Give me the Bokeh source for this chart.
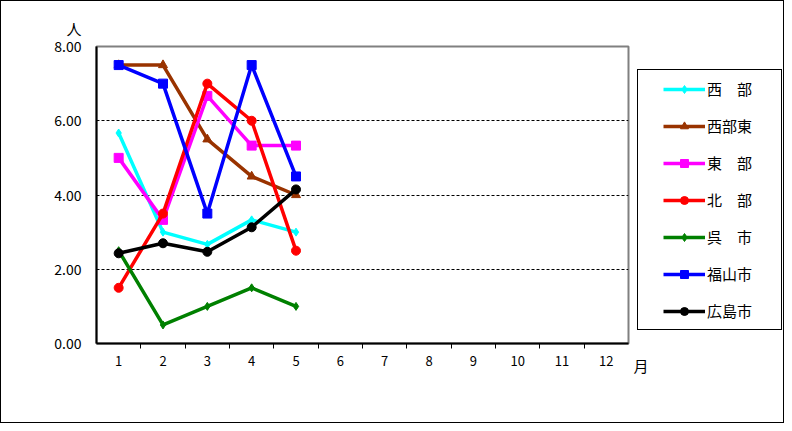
from bokeh.plotting import figure
from bokeh.models import Range1d, FixedTicker, Legend, LegendItem, Title
from bokeh.embed import file_html
from bokeh.resources import INLINE

months = list(range(1, 13))
x_obs = [1, 2, 3, 4, 5]
series_names = ["西　部", "西部東", "東　部", "北　部", "呉　市", "福山市", "広島市"]
nishi = [5.67, 3.00, 2.67, 3.33, 3.00]
nishi_higashi = [7.50, 7.50, 5.50, 4.50, 4.00]
higashi = [5.00, 3.33, 6.67, 5.33, 5.33]
kita = [1.50, 3.50, 7.00, 6.00, 2.50]
kure = [2.50, 0.50, 1.00, 1.50, 1.00]
fukuyama = [7.50, 7.00, 3.50, 7.50, 4.50]
hiroshima = [2.43, 2.70, 2.47, 3.13, 4.15]
y_ticks = [0, 2, 4, 6, 8]
y_tick_labels = ["0.00", "2.00", "4.00", "6.00", "8.00"]
y_unit = "人"
x_unit = "月"

series_values = [nishi, nishi_higashi, higashi, kita, kure, fukuyama, hiroshima]
colors = ["#00FFFF", "#993300", "#FF00FF", "#FF0000", "#008000", "#0000FF", "#000000"]
markers = ["diamond", "triangle", "square", "circle", "diamond", "square", "circle"]
msizes = [8, 9, 9, 9, 8, 9, 9]

FONT = "Noto Sans CJK JP"

p = figure(width=784, height=423, output_backend="svg", toolbar_location=None,
           x_range=Range1d(0.5, 12.5), y_range=Range1d(0, 8),
           min_border_left=96, min_border_right=156, min_border_top=46, min_border_bottom=80)
p.frame_width = 532
p.frame_height = 297
p.background_fill_color = "white"
p.border_fill_color = "white"
p.outline_line_color = "#808080"
p.outline_line_width = 2
p.stylesheets = [":host::after { content: ''; position: absolute; left: 0; top: 0; "
                 "width: 784px; height: 423px; box-sizing: border-box; "
                 "border: 1px solid black; z-index: 100; pointer-events: none; }"]

# unit label above the y axis
p.title.text = y_unit
p.title.align = "left"
p.title.offset = -30
p.title.standoff = 15
p.title.text_font = FONT
p.title.text_font_size = "15px"
p.title.text_font_style = "normal"
p.title.text_color = "black"

# axes
xa = p.xaxis[0]
xa.ticker = FixedTicker(ticks=months, minor_ticks=[m + 0.5 for m in months[:-1]])
xa.major_tick_out = 0
xa.major_tick_in = 0
xa.minor_tick_out = 5
xa.minor_tick_in = 0
xa.minor_tick_line_color = "black"
xa.minor_tick_line_width = 1
xa.axis_line_color = "black"
xa.axis_line_width = 2
xa.major_label_text_font = FONT
xa.major_label_text_font_size = "13px"
xa.major_label_text_color = "black"
xa.major_label_standoff = 7

ya = p.yaxis[0]
ya.ticker = FixedTicker(ticks=y_ticks)
ya.major_label_overrides = {t: l for t, l in zip(y_ticks, y_tick_labels)}
ya.major_tick_out = 0
ya.major_tick_in = 0
ya.minor_tick_out = 0
ya.minor_tick_in = 0
ya.axis_line_color = "black"
ya.axis_line_width = 2
ya.major_label_text_font = FONT
ya.major_label_text_font_size = "14px"
ya.major_label_text_color = "black"
ya.major_label_standoff = 15

p.xgrid.visible = False
p.ygrid.ticker = FixedTicker(ticks=[2, 4, 6])
p.ygrid.grid_line_color = "black"
p.ygrid.grid_line_dash = "3 2"
p.ygrid.grid_line_width = 1

items = []
for name, vals, c, m, s in zip(series_names, series_values, colors, markers, msizes):
    ln = p.line(x_obs, vals, line_color=c, line_width=3.5)
    sc = p.scatter(x_obs, vals, marker=m, size=s, fill_color=c, line_color=c)
    items.append(LegendItem(label=name, renderers=[ln, sc]))

legend = Legend(items=items, location=(9, 13), orientation="vertical",
                padding=8, margin=0, spacing=16, glyph_width=42, glyph_height=20,
                label_height=20, label_width=66, label_standoff=2,
                title=" ", title_location="left", title_text_font_size="1px",
                title_standoff=16,
                label_text_font=FONT, label_text_font_size="15px", label_text_color="black",
                border_line_color="black", border_line_width=1, border_line_alpha=1,
                background_fill_color="white", background_fill_alpha=1)
p.add_layout(legend, "right")

# unit label of the x axis
p.add_layout(Title(text=x_unit, align="right", vertical_align="top", offset=-20,
                   standoff=-28, text_font=FONT, text_font_size="15px",
                   text_font_style="normal", text_color="black"), "below")

open("out.html", "w").write(file_html(p, INLINE))
